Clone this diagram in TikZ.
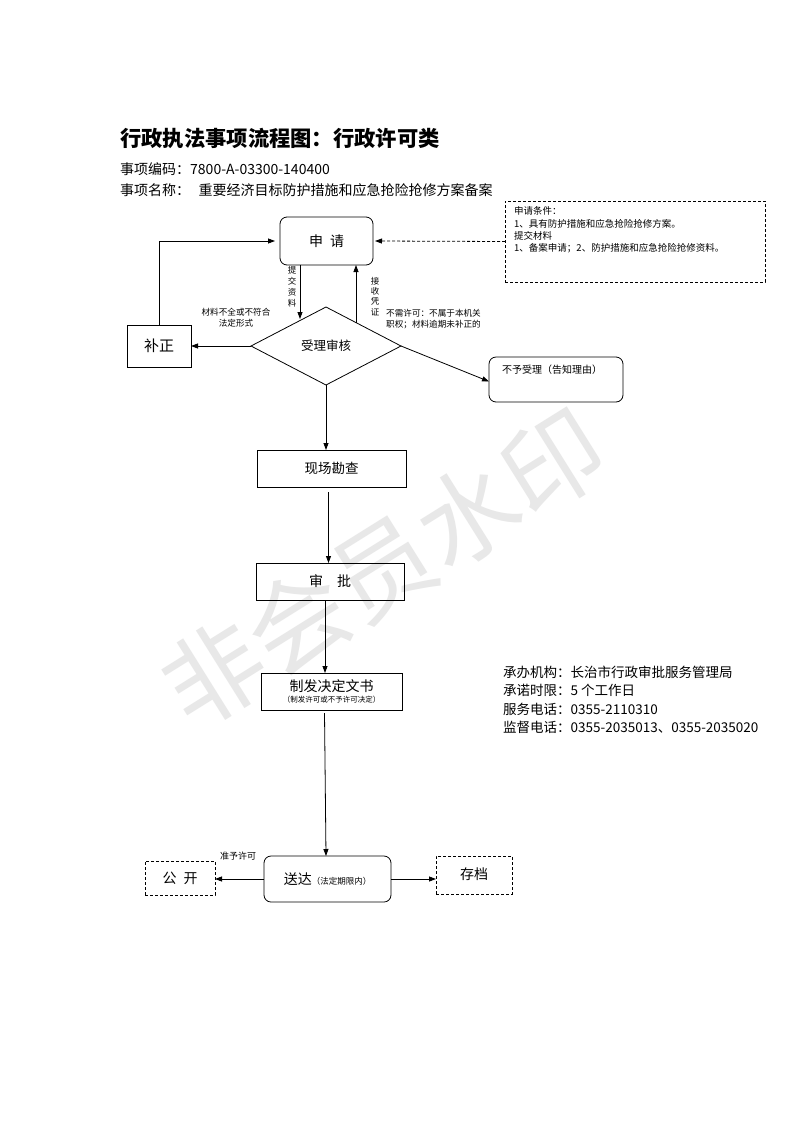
\documentclass[tikz,border=0pt]{standalone}
\usepackage{fontspec}
\setmainfont{Noto Sans CJK SC}
\usetikzlibrary{arrows.meta,shapes.geometric}
\newcommand\fz[2]{\fontsize{#1}{#2}\selectfont}
\begin{document}
\begin{tikzpicture}[x=1pt,y=-1pt,
  bx/.style={draw, line width=0.8pt, inner sep=0pt, outer sep=0pt, align=center},
  rbx/.style={bx, rounded corners=7pt},
  dbx/.style={bx, dash pattern=on 3pt off 2pt},
  arr/.style={-{Triangle[length=7pt,width=5pt]}, line width=0.8pt},
  lbl/.style={inner sep=0pt, align=center},
]
\useasboundingbox[fill=white] (0,0) rectangle (793,1122);

% watermark
\node[rotate=32, text=black!9, font=\fz{100}{100}] (wm) at (383,568) {非会员水印};

% header
\node[lbl, anchor=west, font=\fz{21.3}{24}\bfseries] (title) at (120,138) {行政执法事项流程图：行政许可类};
\node[lbl, anchor=west, font=\fz{14}{16}] (code) at (120,169) {事项编码：7800-A-03300-140400};
\node[lbl, anchor=west, font=\fz{14}{16}] (name) at (120,190) {事项名称：\hspace{0.6em}重要经济目标防护措施和应急抢险抢修方案备案};

% conditions box
\node[dbx, minimum width=260, minimum height=81] (cond) at (635,241.5) {};
\node[lbl, anchor=north west, align=left, font=\fz{9.5}{12.4}] (condt) at (514,206.5)
  {申请条件：\\1、具有防护措施和应急抢险抢修方案。\\提交材料\\1、备案申请；2、防护措施和应急抢险抢修资料。};

% main nodes
\node[rbx, minimum width=93, minimum height=48, font=\fz{14}{16}] (sq) at (326.5,241) {申\hspace{0.5em}请};
\node[bx, minimum width=64, minimum height=42, font=\fz{15}{17}] (bz) at (159,346) {补正};
\node[bx, diamond, minimum width=150, minimum height=78, font=\fz{12.5}{14}] (sh) at (326,346) {受理审核};
\node[rbx, minimum width=134, minimum height=45] (bysl) at (556,379.5) {};
\node[lbl, anchor=north west, font=\fz{10}{12}] (byslt) at (502,365) {不予受理（告知理由）};
\node[bx, minimum width=149, minimum height=37, font=\fz{13.5}{15}] (xc) at (331.5,468.5) {现场勘查};
\node[bx, minimum width=148, minimum height=37, font=\fz{14}{16}] (sp) at (330,581.5) {审\hspace{1em}批};
\node[bx, minimum width=141, minimum height=37] (zf) at (331.5,691.5)
  {{\fz{14}{15}制发决定文书}\\[-1pt]{\fz{7.5}{9}（制发许可或不予许可决定）}};
\node[rbx, minimum width=127, minimum height=46, font=\fz{14}{16}] (sd) at (327.5,879) {送达{\fz{8.5}{10}（法定期限内）}};
\node[dbx, minimum width=70, minimum height=34, font=\fz{14}{16}] (gk) at (180,878) {公\hspace{0.5em}开};
\node[dbx, minimum width=76, minimum height=38, font=\fz{14}{16}] (cd) at (474,875) {\raisebox{3pt}{存档}};

% info
\node[lbl, anchor=north west, align=left, font=\fz{13.5}{18.2}] (info) at (503,666)
  {承办机构：长治市行政审批服务管理局\\承诺时限：5 个工作日\\服务电话：0355-2110310\\监督电话：0355-2035013、0355-2035020};

% connectors
\draw[arr, dash pattern=on 3pt off 2pt] (cond.west) -- ([xshift=2pt]sq.east);
\draw[arr, shorten >=5pt] (bz.north) |- (sq.west);
\coordinate (t1) at (300,319);
\coordinate (t2) at (356,322.6);
\draw[arr] (t1 |- sq.south) -- (t1);
\draw[arr] (t2) -- (t2 |- sq.south);
\draw[arr] (sh.west) -- (bz.east);
\draw[arr] (sh.east) -- ([yshift=-2pt]bysl.west);
\draw[arr] (sh.south) -- (sh.south |- xc.north);
\draw[arr] ([xshift=-3pt,yshift=-5pt]xc.south) -- ([xshift=-3pt]xc.south |- sp.north);
\draw[arr] ([xshift=-5pt]sp.south) -- ([xshift=-5pt]sp.south |- zf.north);
\draw[arr] ([xshift=-7pt,yshift=-3pt]zf.south) -- ([xshift=-1.5pt]sd.north);
\draw[arr] (sd.west) -- (sd.west -| gk.east);
\draw[arr] (sd.east) -- (sd.east -| cd.west);

% connector labels
\node[lbl, font=\fz{8.5}{11}] (l1) at (292,287) {提\\交\\资\\料};
\node[lbl, font=\fz{8.5}{10.3}] (l2) at (375,296.5) {接\\收\\凭\\证};
\node[lbl, font=\fz{8.6}{11}] (l3) at (236,318) {材料不全或不符合\\法定形式};
\node[lbl, anchor=north west, align=left, font=\fz{8.6}{11}] (l4) at (386,309) {不需许可：不属于本机关\\职权；材料逾期未补正的};
\node[lbl, font=\fz{9}{11}] (l5) at (238,856) {准予许可};
\end{tikzpicture}
\end{document}
